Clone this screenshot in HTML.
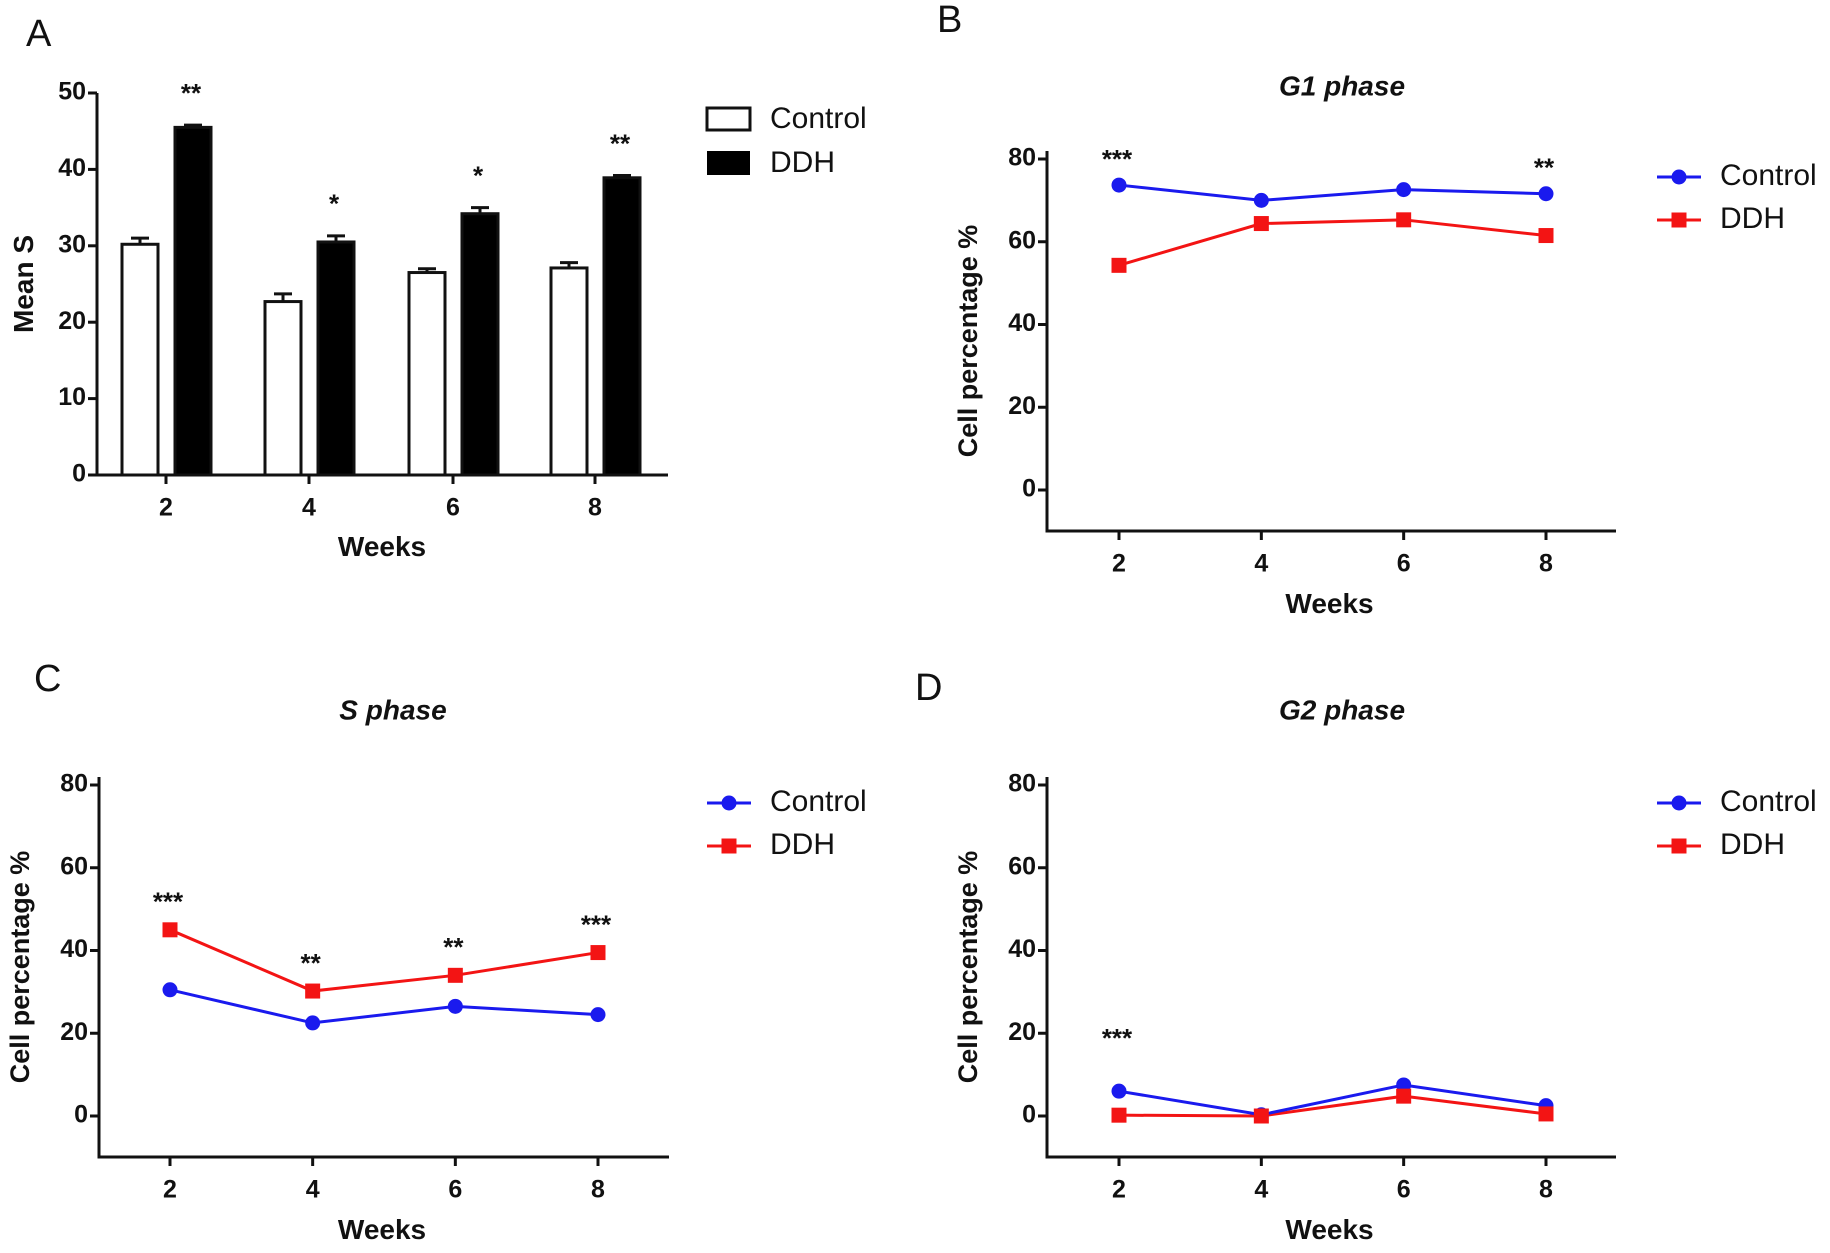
<!DOCTYPE html>
<html><head><meta charset="utf-8">
<style>
html,body{margin:0;padding:0;background:#fff;}
svg{display:block;}
text{font-family:"Liberation Sans Narrow","Liberation Sans",sans-serif;fill:#111;}
.tick{font-size:25px;font-weight:bold;}
.axt{font-size:28px;font-weight:bold;font-family:"Liberation Sans",sans-serif;}
.yt{font-size:27px;font-weight:bold;font-family:"Liberation Sans",sans-serif;}
.leg{font-size:30px;}
.pl{font-size:38px;font-family:"Liberation Sans",sans-serif;}
.ttl{font-size:28px;font-weight:bold;font-style:italic;font-family:"Liberation Sans",sans-serif;}
.star{font-size:26px;font-weight:bold;font-family:"Liberation Sans",sans-serif;}
</style></head>
<body>
<svg id="fig" width="1830" height="1253" viewBox="0 0 1830 1253" xmlns="http://www.w3.org/2000/svg"></svg>
<script>
// ---- data ----
const weeks = [2, 4, 6, 8];
const barControl = [30.2, 22.7, 26.5, 27.1];
const barControlErr = [0.8, 1.0, 0.5, 0.7];
const barDDH = [45.5, 30.5, 34.2, 38.9];
const barDDHErr = [0.3, 0.8, 0.8, 0.3];
const barStars = ["**", "*", "*", "**"];
const barYTicks = [0, 10, 20, 30, 40, 50];

const g1Control = [73.7, 70.0, 72.6, 71.6];
const g1DDH = [54.3, 64.4, 65.3, 61.5];
const g1Stars = ["***", "", "", "**"];

const sControl = [30.5, 22.5, 26.5, 24.5];
const sDDH = [45.0, 30.2, 34.0, 39.5];
const sStars = ["***", "**", "**", "***"];

const g2Control = [6.0, 0.3, 7.5, 2.5];
const g2DDH = [0.2, 0.0, 4.8, 0.5];
const g2Stars = ["***", "", "", ""];

const lineYTicks = [0, 20, 40, 60, 80];

const svg = document.getElementById('fig');
const NS = 'http://www.w3.org/2000/svg';
function mk(tag, attrs, parent, txt) {
  const e = document.createElementNS(NS, tag);
  for (const k in attrs) e.setAttribute(k, attrs[k]);
  if (txt !== undefined) e.textContent = txt;
  (parent || svg).appendChild(e);
  return e;
}

// ---- Panel A: bar chart ----
(function () {
  const g = mk('g', {});
  
  
  const x0 = 97, xEnd = 668, yTop = 93, yBot = 475, vMax = 50;
  const ys = v => yBot - (v / vMax) * (yBot - yTop);
  const cx = [166, 309, 453, 595];
  const xs = i => cx[i];
  const lbl = mk('text', {x: 26, y: 36, class: 'pl', 'dominant-baseline': 'middle'}, g, 'A');
  
  
  const ax = mk('path', {d: `M${x0},${yTop} V${yBot} H${xEnd}`, stroke: '#111', 'stroke-width': 3, fill: 'none'}, g);
  
  
  barYTicks.forEach(t => {
    mk('line', {x1: x0 - 9, x2: x0, y1: ys(t), y2: ys(t), stroke: '#111', 'stroke-width': 3}, g);
    const tl = mk('text', {x: x0 - 11, y: ys(t), class: 'tick', 'text-anchor': 'end', 'dominant-baseline': 'middle'}, g, t);
    
    
  });
  weeks.forEach((w, i) => {
    mk('line', {x1: xs(i), x2: xs(i), y1: yBot, y2: yBot + 9, stroke: '#111', 'stroke-width': 3}, g);
    const tl = mk('text', {x: xs(i), y: yBot + 34, class: 'tick', 'text-anchor': 'middle', 'dominant-baseline': 'middle'}, g, w);
    
    
    const bw = 36;
    const cX = xs(i) - 26;
    mk('line', {x1: cX, x2: cX, y1: ys(barControl[i] + barControlErr[i]), y2: ys(barControl[i]), stroke: '#111', 'stroke-width': 3}, g);
    mk('line', {x1: cX - 9, x2: cX + 9, y1: ys(barControl[i] + barControlErr[i]), y2: ys(barControl[i] + barControlErr[i]), stroke: '#111', 'stroke-width': 3}, g);
    const b1 = mk('rect', {x: cX - bw / 2, y: ys(barControl[i]), width: bw, height: yBot - ys(barControl[i]), fill: '#fff', stroke: '#111', 'stroke-width': 3}, g);
    
    
    const dX = xs(i) + 27;
    mk('line', {x1: dX, x2: dX, y1: ys(barDDH[i] + barDDHErr[i]), y2: ys(barDDH[i]), stroke: '#111', 'stroke-width': 3}, g);
    mk('line', {x1: dX - 9, x2: dX + 9, y1: ys(barDDH[i] + barDDHErr[i]), y2: ys(barDDH[i] + barDDHErr[i]), stroke: '#111', 'stroke-width': 3}, g);
    const b2 = mk('rect', {x: dX - bw / 2, y: ys(barDDH[i]), width: bw, height: yBot - ys(barDDH[i]), fill: '#000', stroke: '#111', 'stroke-width': 3}, g);
    
    
    const st = mk('text', {x: dX - 2, y: ys(barDDH[i] + barDDHErr[i]) - 30, class: 'star', 'text-anchor': 'middle', 'dominant-baseline': 'middle'}, g, barStars[i]);
    
    
  });
  const yt = mk('text', {x: 0, y: 0, class: 'axt', 'text-anchor': 'middle', transform: `translate(33,${(yTop + yBot) / 2}) rotate(-90)`, 'font-size': '24'}, g, 'Mean S');
  
  
  const xt = mk('text', {x: 382, y: 556, class: 'axt', 'text-anchor': 'middle'}, g, 'Weeks');
  
  
  const lg = mk('g', {}, g);
  
  
  mk('rect', {x: 707, y: 108, width: 43, height: 22, fill: '#fff', stroke: '#111', 'stroke-width': 3}, lg);
  mk('rect', {x: 707, y: 151, width: 43, height: 24, fill: '#000'}, lg);
  const l1 = mk('text', {x: 770, y: 120, class: 'leg', 'dominant-baseline': 'middle'}, lg, 'Control');
  
  
  const l2 = mk('text', {x: 770, y: 164, class: 'leg', 'dominant-baseline': 'middle'}, lg, 'DDH');
  
  
})();

// ---- line panels ----
function linePanel(o) {
  const g = mk('g', {});
  
  
  const {x0, xEnd, y80, y0, yMin} = o;
  const ys = v => y0 - (v / 80) * (y0 - y80);
  const step = (o.cx8 - o.cx2) / 3;
  const xs = i => o.cx2 + i * step;
  const pl = mk('text', {x: o.lx, y: o.ly, class: 'pl', 'dominant-baseline': 'middle'}, g, o.letter);
  
  
  const tt = mk('text', {x: o.tx, y: o.ty, class: 'ttl', 'text-anchor': 'middle', 'dominant-baseline': 'middle'}, g, o.title);
  
  
  const ax = mk('path', {d: `M${x0},${y80 - 8} V${yMin} H${xEnd}`, stroke: '#111', 'stroke-width': 3, fill: 'none'}, g);
  
  
  lineYTicks.forEach(t => {
    mk('line', {x1: x0 - 9, x2: x0, y1: ys(t), y2: ys(t), stroke: '#111', 'stroke-width': 3}, g);
    const tl = mk('text', {x: x0 - 11, y: ys(t), class: 'tick', 'text-anchor': 'end', 'dominant-baseline': 'middle'}, g, t);
    
    
  });
  weeks.forEach((w, i) => {
    mk('line', {x1: xs(i), x2: xs(i), y1: yMin, y2: yMin + 9, stroke: '#111', 'stroke-width': 3}, g);
    const tl = mk('text', {x: xs(i), y: yMin + 34, class: 'tick', 'text-anchor': 'middle', 'dominant-baseline': 'middle'}, g, w);
    
    
  });
  const yt = mk('text', {x: 0, y: 0, class: 'yt', 'text-anchor': 'middle', transform: `translate(${x0 - 70},${(y80 + yMin) / 2 - 4}) rotate(-90)`}, g, 'Cell percentage %');
  
  
  const xt = mk('text', {x: (x0 + xEnd) / 2 - 2, y: yMin + 82, class: 'axt', 'text-anchor': 'middle'}, g, 'Weeks');
  
  
  const dp = mk('polyline', {points: o.ddh.map((v, i) => xs(i) + ',' + ys(v)).join(' '), fill: 'none', stroke: '#f31414', 'stroke-width': 3}, g);
  
  
  const cp = mk('polyline', {points: o.ctrl.map((v, i) => xs(i) + ',' + ys(v)).join(' '), fill: 'none', stroke: '#1a1aee', 'stroke-width': 3}, g);
  
  
  o.ctrl.forEach((v, i) => {
    const c = mk('circle', {cx: xs(i), cy: ys(v), r: 7.5, fill: '#1a1aee'}, g);
    
    
  });
  o.ddh.forEach((v, i) => {
    const r = mk('rect', {x: xs(i) - 7.5, y: ys(v) - 7.5, width: 15, height: 15, fill: '#f31414'}, g);
    
    
  });
  o.stars.forEach((s, i) => {
    if (!s) return;
    const top = Math.max(o.ctrl[i], o.ddh[i]);
    const st = mk('text', {x: xs(i) - 2, y: ys(top) - o.starOff, class: 'star', 'text-anchor': 'middle', 'dominant-baseline': 'middle'}, g, s);
    
    
  });
  const lg = mk('g', {}, g);
  
  
  mk('line', {x1: o.legX, x2: o.legX + 44, y1: o.legY, y2: o.legY, stroke: '#1a1aee', 'stroke-width': 3}, lg);
  mk('circle', {cx: o.legX + 22, cy: o.legY, r: 7.5, fill: '#1a1aee'}, lg);
  mk('line', {x1: o.legX, x2: o.legX + 44, y1: o.legY + 43, y2: o.legY + 43, stroke: '#f31414', 'stroke-width': 3}, lg);
  mk('rect', {x: o.legX + 14.5, y: o.legY + 35.5, width: 15, height: 15, fill: '#f31414'}, lg);
  const l1 = mk('text', {x: o.legX + 63, y: o.legY, class: 'leg', 'dominant-baseline': 'middle'}, lg, 'Control');
  
  
  const l2 = mk('text', {x: o.legX + 63, y: o.legY + 43, class: 'leg', 'dominant-baseline': 'middle'}, lg, 'DDH');
  
  
}

linePanel({name: 'panel-b', letter: 'B', lx: 937, ly: 22, title: 'G1 phase', tx: 1342, ty: 88,
  x0: 1047, xEnd: 1616, y80: 159, y0: 490, yMin: 531, cx2: 1119, cx8: 1546,
  ctrl: g1Control, ddh: g1DDH, stars: g1Stars, starOff: 24, legX: 1657, legY: 177});
linePanel({name: 'panel-c', letter: 'C', lx: 34, ly: 681, title: 'S phase', tx: 393, ty: 712,
  x0: 99, xEnd: 669, y80: 785, y0: 1116, yMin: 1157, cx2: 170, cx8: 598,
  ctrl: sControl, ddh: sDDH, stars: sStars, starOff: 26, legX: 707, legY: 803});
linePanel({name: 'panel-d', letter: 'D', lx: 915, ly: 690, title: 'G2 phase', tx: 1342, ty: 712,
  x0: 1047, xEnd: 1616, y80: 785, y0: 1116, yMin: 1157, cx2: 1119, cx8: 1546,
  ctrl: g2Control, ddh: g2DDH, stars: g2Stars, starOff: 51, legX: 1657, legY: 803});
</script>
</body></html>
